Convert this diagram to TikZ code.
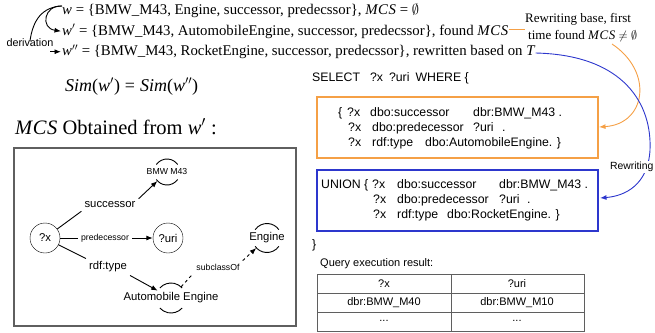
\documentclass[tikz,border=0pt]{standalone}
\usepackage{amssymb}
\usepackage{fontspec}
\setmainfont{Liberation Serif}
\setsansfont{Liberation Sans}
\usetikzlibrary{arrows.meta}
\definecolor{orng}{RGB}{245,160,70}
\definecolor{blu}{RGB}{45,55,205}
\definecolor{gbox}{RGB}{95,95,95}
\newcommand{\mcsi}{\textit{M\kern0.6pt C\kern0.6pt S}}
\begin{document}
\begin{tikzpicture}[x=1pt,y=-1pt,
  every node/.style={inner sep=0pt},
  ln/.style={line width=0.9pt},
  arr/.style={ln,-{Latex[length=6.5pt,width=5pt]}},
  top/.style={font=\fontsize{14.8}{17}\selectfont, anchor=base west},
  sq/.style={font=\sffamily\fontsize{12.3}{14}\selectfont, anchor=base west},
  gl/.style={font=\sffamily\fontsize{11.3}{13}\selectfont},
  gs/.style={font=\sffamily\fontsize{8.7}{10}\selectfont},
  tb/.style={font=\sffamily\fontsize{11}{13}\selectfont},
  circ/.style={circle, minimum size=30pt, inner sep=0pt},
]
\useasboundingbox (0,0) rectangle (655,332);

% ---- top lines ----
\node[top] (l1) at (62,14.5) {\textit{w} = \{BMW\_M43, Engine, successor, predecssor\}, \mcsi\ = $\emptyset$};
\node[top] (l2) at (62,35) {\textit{w}$'$ = \{BMW\_M43, AutomobileEngine, successor, predecssor\}, found \mcsi};
\node[top] (l3) at (62,55.5) {\textit{w}$''$ = \{BMW\_M43, RocketEngine, successor, predecssor\}, rewritten based on \textit{T}};
\node[font=\sffamily\fontsize{10.8}{12}\selectfont] (deriv) at (30,43) {derivation};
\coordinate (wt) at (62,6);
\coordinate (dtail) at ([xshift=-12pt]l3.west);
\draw[arr] (wt) .. controls (44,5) and (40,28) .. ([xshift=-1pt]l2.west);
\draw[ln] (wt) .. controls (42,7) and (33,20) .. ([yshift=-2pt]deriv.north);
\draw[arr] (dtail) -- ([xshift=-1pt]l3.west);

\node[anchor=base west, font=\fontsize{18}{21}\selectfont] (sim) at (65,91) {\textit{Sim}(\textit{w}$'$)\;=\;\textit{Sim}(\textit{w}$''$)};
\node[anchor=base west, font=\fontsize{20.5}{23}\selectfont] (mcs) at (15,134) {\mcsi\ Obtained from \textit{w}$'$ :};

% ---- annotation ----
\node[font=\fontsize{13}{17}\selectfont, align=left, anchor=west] (rw) at (525,28) {Rewriting base, first\\\hspace*{3pt}time found \mcsi\ $\neq\emptyset$};
\draw[ln, orng] (l2.east |- 0,29) -- (rw.west |- 0,29);

% ---- graph box ----
\draw[gbox, line width=1.2pt] (14,148) rectangle (296,326);
\node[circ, draw, gl] (x) at (45,238) {?x};
\node[circ, draw, gl] (uri) at (168,238) {?uri};
\node[circ, minimum size=26pt] (bmw) at (167,172) {};
\node[gs] (bmwt) at (bmw) {BMW M43};
\draw[ln] (bmw.center) ++(215:13) arc (215:325:13);
\draw[ln] (bmw.center) ++(35:13) arc (35:145:13);
\node[circ, minimum size=29pt] (eng) at (267,238) {};
\node[gl] (engt) at (eng) {Engine};
\draw[ln] (eng.center) ++(215:14.5) arc (215:325:14.5);
\draw[ln] (eng.center) ++(35:14.5) arc (35:145:14.5);
\node[circ] (auto) at (171,298) {};
\node[gl] (autot) at (auto) {Automobile Engine};
\draw[ln] (auto.center) ++(222:15) arc (222:318:15);
\draw[ln] (auto.center) ++(42:15) arc (42:138:15);

\node[gl, inner sep=3pt] (succ) at (110,205) {successor};
\node[gs, inner sep=3pt] (pred) at (105,238) {predecessor};
\node[gl, inner sep=3pt] (rdf) at (108,267) {rdf:type};
\node[gs, inner sep=3pt] (sub) at (218,267) {subclassOf};
\draw[ln] (x) -- (succ.south west);
\draw[arr] (succ.north east) -- (bmw);
\draw[ln] (x) -- (pred);
\draw[arr] (pred) -- (uri);
\draw[ln] (x) -- (rdf.north west);
\draw[arr] (rdf.south east) -- (auto);
\draw[ln, dashed] (auto) -- (sub.south west);
\draw[arr, dashed] (sub.north east) -- (eng);

% ---- query ----
\node[sq] (sel) at (312,81) {SELECT\hspace{10pt}?x\hspace{6pt}?uri\hspace{6pt}WHERE \{};
\draw[orng, line width=1.3pt] (317,97) rectangle (598,158);
\node[sq] (o1) at (338,116) {\makebox[9pt][l]{\{}\makebox[23pt][l]{?x}\makebox[103pt][l]{dbo:successor}dbr:BMW\_M43 .};
\node[sq] (o2) at (338,131) {\hspace{10pt}\makebox[24pt][l]{?x}\makebox[101pt][l]{dbo:predecessor}\makebox[29pt][l]{?uri}.};
\node[sq] (o3) at (338,146) {\hspace{10pt}\makebox[24pt][l]{?x}\makebox[53pt][l]{rdf:type}dbo:AutomobileEngine. \}};
\draw[blu, line width=1.3pt] (317,170) rectangle (598,231);
\node[sq] (b1) at (321,188) {\makebox[51pt][l]{UNION \{}\makebox[25pt][l]{?x}\makebox[102pt][l]{dbo:successor}dbr:BMW\_M43 .};
\node[sq] (b2) at (321,203) {\hspace{52pt}\makebox[24pt][l]{?x}\makebox[102pt][l]{dbo:predecessor}\makebox[28pt][l]{?uri}.};
\node[sq] (b3) at (321,218) {\hspace{52pt}\makebox[24pt][l]{?x}\makebox[50pt][l]{rdf:type}dbo:RocketEngine. \}};
\node[sq] (cb) at (312,248) {\}};
\node[sq, font=\sffamily\fontsize{11}{13}\selectfont] (qr) at (320,266) {Query execution result:};

% ---- rewriting connectors ----
\draw[arr, orng] (612,44) .. controls (654,72) and (646,124) .. (599,127);
\draw[arr, blu] (l3.east |- 0,53) .. controls (625,55) and (652,105) .. (650,150)
   .. controls (648,185) and (625,196) .. (600,198);
\node[font=\sffamily\fontsize{10.4}{12}\selectfont, fill=white, inner sep=0.8pt, anchor=west] (rwl) at (609,167) {Rewriting};

% ---- table ----
\draw[gbox, line width=1pt] (317,274) rectangle (584,331);
\draw[gbox, line width=1pt] (317,293) -- (584,293) (317,312) -- (584,312) (451,274) -- (451,331);
\node[tb] (t11) at (384,284) {?x};
\node[tb] (t12) at (517,284) {?uri};
\node[tb] (t21) at (384,303) {dbr:BMW\_M40};
\node[tb] (t22) at (517,303) {dbr:BMW\_M10};
\node[tb] (t31) at (384,321) {...};
\node[tb] (t32) at (517,321) {...};
\end{tikzpicture}
\end{document}
